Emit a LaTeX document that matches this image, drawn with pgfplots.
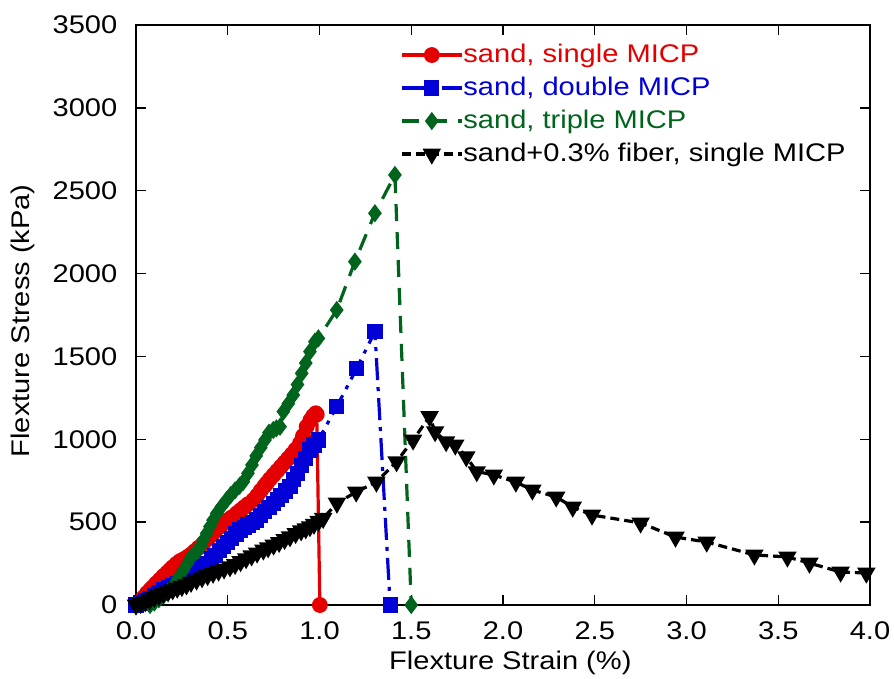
\documentclass[border=0pt]{standalone}
\usepackage{fontspec}
\setmainfont{Liberation Sans}[FakeStretch=1.14]
\usepackage{pgfplots}
\pgfplotsset{compat=1.18}
\definecolor{mred}{RGB}{228,0,0}
\definecolor{mblue}{RGB}{0,0,215}
\definecolor{mgreen}{RGB}{0,100,28}
\begin{document}
\fontsize{25.5bp}{30bp}\selectfont
\begin{tikzpicture}
\begin{axis}[
  name=ax,
  scale only axis,
  width=734bp, height=580bp,
  xmin=0, xmax=4, ymin=0, ymax=3500,
  xtick={0,0.5,...,4}, ytick={0,500,...,3500},
  minor tick num=0,
  tick align=inside,
  major tick length=10bp,
  axis line style={line width=1.6bp},
  every tick/.style={black, line width=1.3bp},
  /pgf/number format/assume math mode=true,
  xticklabel style={yshift=-8bp, /pgf/number format/fixed, /pgf/number format/fixed zerofill, /pgf/number format/precision=1},
  yticklabel style={xshift=-10bp, /pgf/number format/fixed, /pgf/number format/1000 sep={}},
  tick label style={font=\fontsize{25.5bp}{30bp}\selectfont},
  label style={font=\fontsize{25.5bp}{30bp}\selectfont},
  xlabel={Flexture Strain (\%)},
  ylabel={Flexture Stress (kPa)},
  xlabel style={at={(axis description cs:0.51,-0.1)}, anchor=center},
  ylabel style={at={(axis description cs:-0.154,0.49)}, anchor=center, rotate=0},
  legend cell align=left,
  legend image code/.code={\draw[mark repeat=2,mark phase=2,#1] plot coordinates {(0bp,0bp) (30bp,0bp) (60bp,0bp)};},
  legend style={at={(axis description cs:0.3597,0.971)}, anchor=north west, draw=none, fill=none,
    font=\fontsize{25.5bp}{30bp}\selectfont, row sep=7bp, inner sep=0pt,
    nodes={inner sep=0pt, text height=20bp, text depth=6bp},
    /tikz/every even column/.append style={column sep=6bp}},
]
% sand, single MICP
\addplot[mred, line width=3.2bp, mark=*, mark size=6.3bp, mark options={solid, fill=mred}] coordinates {
(0,0) (0.02,22) (0.04,45) (0.06,72) (0.08,95) (0.094,110) (0.11,130) (0.13,152) (0.15,175) (0.17,195)
(0.185,211) (0.2,228) (0.22,248) (0.24,265) (0.258,275) (0.28,290) (0.30,305) (0.32,325) (0.34,345)
(0.367,372) (0.39,398) (0.41,420) (0.43,443) (0.458,473) (0.48,495) (0.50,512) (0.52,528) (0.549,553)
(0.57,572) (0.59,590) (0.61,608) (0.64,634) (0.66,660) (0.68,690) (0.70,718) (0.712,734) (0.73,760)
(0.75,785) (0.77,810) (0.79,835) (0.81,860) (0.83,885) (0.85,910) (0.87,938) (0.894,976) (0.91,1020)
(0.93,1076) (0.95,1115) (0.965,1140) (0.98,1157) (0.985,1150) (1.002,0)
};
\addlegendentry{\textcolor{mred}{sand, single MICP}}
% sand, double MICP
\addplot[mblue, line width=3.2bp, dash pattern=on 22bp off 7bp on 4bp off 7bp, mark=square*, mark size=6bp, mark options={solid, fill=mblue}] coordinates {
(0,0) (0.025,12) (0.05,25) (0.075,40) (0.10,55) (0.125,72) (0.149,90) (0.175,102) (0.20,115)
(0.225,128) (0.25,140) (0.27,155) (0.294,171) (0.315,190) (0.34,210) (0.36,230) (0.385,251)
(0.41,278) (0.43,300) (0.455,328) (0.476,352) (0.50,378) (0.52,400) (0.545,428) (0.567,453)
(0.59,468) (0.61,483) (0.635,498) (0.658,513) (0.68,540) (0.70,563) (0.725,590) (0.748,614)
(0.77,638) (0.79,660) (0.815,688) (0.839,714) (0.86,755) (0.88,795) (0.90,840) (0.925,885)
(0.948,935) (0.97,965) (0.994,996) (1.094,1197) (1.203,1428) (1.302,1650) (1.385,0)
};
\addlegendentry{\textcolor{mblue}{sand, double MICP}}
% sand, triple MICP
\addplot[mgreen, line width=3.2bp, dash pattern=on 17bp off 11bp, mark=diamond*, mark size=6.5bp, mark options={solid, fill=mgreen}] coordinates {
(0.076,0) (0.10,15) (0.125,35) (0.15,58) (0.175,85) (0.2,110) (0.225,155) (0.258,211) (0.28,250)
(0.303,292) (0.32,312) (0.34,332) (0.355,360) (0.367,392) (0.385,432) (0.403,473) (0.42,512)
(0.44,553) (0.465,592) (0.494,634) (0.515,662) (0.54,692) (0.565,720) (0.585,744) (0.61,795)
(0.632,845) (0.655,900) (0.68,950) (0.703,996) (0.725,1040) (0.748,1056) (0.765,1066) (0.785,1076)
(0.803,1167) (0.83,1215) (0.857,1267) (0.88,1330) (0.903,1398) (0.925,1460) (0.948,1529)
(0.975,1589) (0.994,1609) (1.094,1780) (1.193,2072) (1.302,2364) (1.411,2595) (1.50,0)
};
\addlegendentry{\textcolor{mgreen}{sand, triple MICP}}
% sand + 0.3% fiber, single MICP
\addplot[black, line width=3.2bp, dash pattern=on 9bp off 5bp, mark=triangle*, mark size=7.5bp, mark options={solid, fill=black, rotate=180}] coordinates {
(0,0) (0.025,10) (0.05,20) (0.075,32) (0.1,45) (0.125,57) (0.149,70) (0.175,80) (0.2,92)
(0.225,102) (0.25,112) (0.275,122) (0.3,137) (0.33,151) (0.36,165) (0.39,178) (0.42,192)
(0.45,205) (0.48,218) (0.512,231) (0.54,245) (0.57,262) (0.6,280) (0.63,297) (0.66,314)
(0.694,332) (0.72,346) (0.75,362) (0.78,378) (0.81,396) (0.839,412) (0.87,432) (0.9,448)
(0.925,460) (0.948,473) (0.97,488) (0.995,505) (1.02,523) (1.095,615) (1.2,682) (1.31,742)
(1.42,865) (1.51,996) (1.60,1137) (1.63,1046) (1.69,986) (1.74,966) (1.80,895) (1.857,805)
(1.95,785) (2.07,742) (2.16,694) (2.29,652) (2.38,591) (2.485,543) (2.75,495) (2.94,410)
(3.11,380) (3.37,302) (3.55,290) (3.67,253) (3.84,199) (3.98,193)
};
\addlegendentry{sand+0.3\% fiber, single MICP}
\end{axis}
\pgfresetboundingbox
\path[use as bounding box] (ax.south west) ++(-136bp,-74bp) rectangle ++(894bp,679bp);
\end{tikzpicture}
\end{document}
